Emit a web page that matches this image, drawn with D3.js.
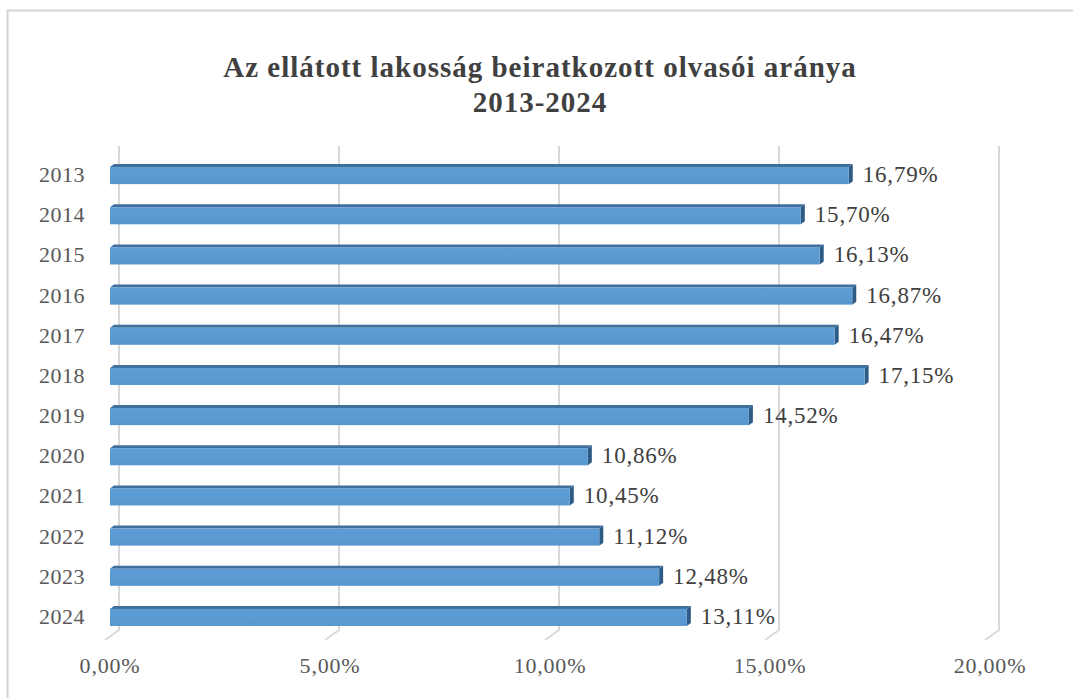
<!DOCTYPE html>
<html>
<head>
<meta charset="utf-8">
<script src="https://cdn.jsdelivr.net/npm/d3@7"></script>
<style>
  body { margin: 0; background: #fff; }
  svg text { font-family: "Liberation Serif", "DejaVu Serif", serif; }
</style>
</head>
<body>
<div id="chart"></div>
<script>
const years = ["2013", "2014", "2015", "2016", "2017", "2018", "2019", "2020", "2021", "2022", "2023", "2024"];
const values = [16.79, 15.70, 16.13, 16.87, 16.47, 17.15, 14.52, 10.86, 10.45, 11.12, 12.48, 13.11];
const ticks = [0, 5, 10, 15, 20];
const titleLines = ["Az ellátott lakosság beiratkozott olvasói aránya", "2013-2024"];

const width = 1073, height = 698;
const depthX = 9; // 3d offset of the back wall

const svg = d3.select("#chart")
    .append("svg")
    .attr("width", width)
    .attr("height", height);

// chart area frame
svg.append("rect")
    .attr("x", 7.5).attr("y", 10.5)
    .attr("width", 1100).attr("height", 720)
    .attr("fill", "#fff")
    .attr("stroke", "#d4d4d4")
    .attr("stroke-width", 2);

svg.selectAll(".title")
    .data(titleLines)
    .enter().append("text")
    .attr("x", 540)
    .attr("y", (d, i) => 77 + i * 35)
    .attr("text-anchor", "middle")
    .style("font-size", "29px")
    .style("letter-spacing", "1px")
    .style("font-weight", "bold")
    .style("fill", "#404040")
    .text(d => d);

// front-face scale
const x = d3.scaleLinear().domain([0, 20]).range([110, 990]);
const y = d3.scaleBand().domain(years).range([154, 636]).paddingInner(0.5).paddingOuter(0.25);

// gridlines on the back wall with floor segments
const gridTop = 146, gridBottom = 630;
const grid = svg.append("g");
ticks.forEach(function(t) {
    const gx = x(t) + depthX;
    grid.append("path")
        .attr("d", "M" + gx + "," + gridTop + "V" + gridBottom + "L" + (gx - 14) + "," + (gridBottom + 10))
        .attr("fill", "none")
        .attr("stroke", "#d9d9d9")
        .attr("stroke-width", 2);
});

svg.selectAll(".tick-label")
    .data(ticks)
    .enter().append("text")
    .attr("x", d => x(d))
    .attr("y", 673)
    .attr("text-anchor", "middle")
    .style("font-size", "22px")
    .style("letter-spacing", "0.8px")
    .style("fill", "#595959")
    .text(d => d3.format(".2f")(d).replace(".", ",") + "%");

svg.selectAll(".year-label")
    .data(years)
    .enter().append("text")
    .attr("x", 85)
    .attr("y", d => y(d) + y.bandwidth() / 2 + 8)
    .attr("text-anchor", "end")
    .style("font-size", "22px")
    .style("letter-spacing", "0.5px")
    .style("fill", "#595959")
    .text(d => d);

const defs = svg.append("defs");
const grad = defs.append("linearGradient").attr("id", "front").attr("x1", 0).attr("y1", 0).attr("x2", 0).attr("y2", 1);
grad.append("stop").attr("offset", "0%").attr("stop-color", "#5e9cd6");
grad.append("stop").attr("offset", "100%").attr("stop-color", "#5896d0");

const bars = svg.selectAll(".bar")
    .data(years.map((d, i) => ({ year: d, value: values[i] })))
    .enter().append("g");

const bevel = 3;
// top face
bars.append("path")
    .attr("d", function(d) {
        const y0 = y(d.year) + bevel, x1 = x(d.value);
        return "M" + x(0) + "," + y0 + "L" + (x(0) + 4) + "," + (y0 - bevel) +
            "H" + (x1 + 4) + "L" + x1 + "," + y0 + "Z";
    })
    .attr("fill", "#3f6f9d");
// side face
bars.append("path")
    .attr("d", function(d) {
        const y0 = y(d.year) + bevel, y1 = y(d.year) + y.bandwidth(), x1 = x(d.value);
        return "M" + x1 + "," + y0 + "L" + (x1 + 4) + "," + (y0 - bevel) +
            "V" + (y1 - bevel) + "L" + x1 + "," + y1 + "Z";
    })
    .attr("fill", "#2e5b86");
// front face
bars.append("rect")
    .attr("x", x(0))
    .attr("y", d => y(d.year) + bevel)
    .attr("width", d => x(d.value) - x(0))
    .attr("height", y.bandwidth() - bevel)
    .attr("fill", "url(#front)");

bars.append("text")
    .attr("x", d => x(d.value) + 14)
    .attr("y", d => y(d.year) + y.bandwidth() / 2 + 8)
    .style("font-size", "23px")
    .style("letter-spacing", "0.8px")
    .style("fill", "#404040")
    .text(d => d3.format(".2f")(d.value).replace(".", ",") + "%");
</script>
</body>
</html>
